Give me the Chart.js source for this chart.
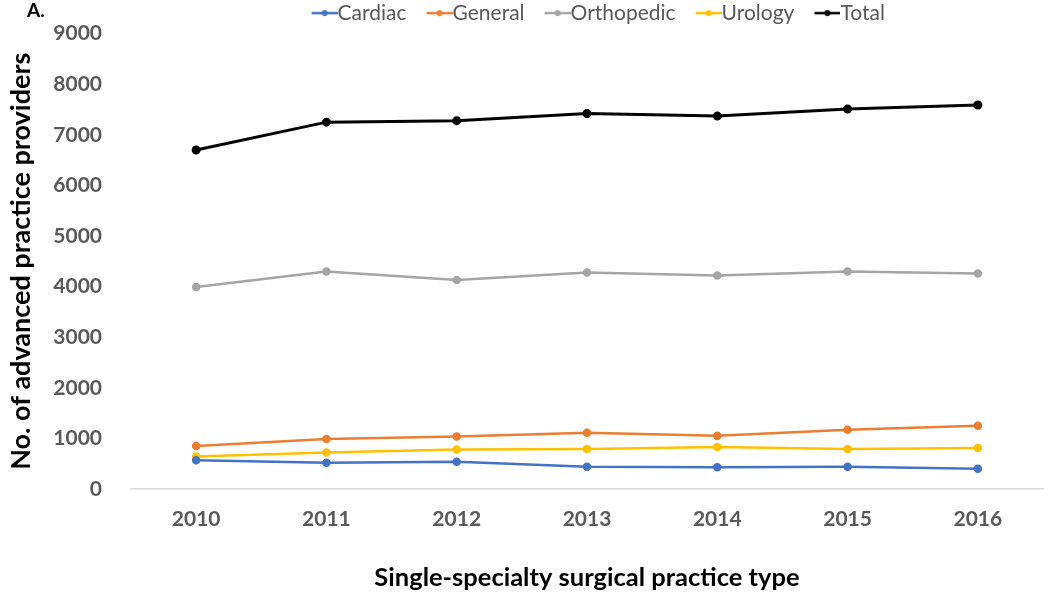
<!DOCTYPE html>
<html>
<head>
<meta charset="utf-8">
<script src="https://cdn.jsdelivr.net/npm/chart.js@4.4.1/dist/chart.umd.min.js"></script>
<style>
  html, body { margin: 0; padding: 0; background: #fff; }
  #wrap { position: relative; width: 1050px; height: 605px; }
  #panel { position: absolute; left: 27px; top: -2px; font: bold 19px Lato, sans-serif; color: #000; }
</style>
</head>
<body>
<div id="wrap">
  <canvas id="chart" width="1050" height="605"></canvas>
  <div id="panel">A.</div>
</div>
<script>
const years = ["2010", "2011", "2012", "2013", "2014", "2015", "2016"];
const cardiac = [570, 520, 540, 440, 430, 440, 400];
const general = [850, 990, 1040, 1110, 1050, 1170, 1250];
const orthopedic = [3990, 4300, 4130, 4280, 4220, 4300, 4260];
const urology = [640, 720, 780, 790, 830, 790, 810];
const total = [6700, 7250, 7280, 7420, 7370, 7510, 7590];

const seriesNames = ["Cardiac", "General", "Orthopedic", "Urology", "Total"];
const seriesValues = [cardiac, general, orthopedic, urology, total];
const seriesColors = ["#4472C4", "#ED7D31", "#A5A5A5", "#FFC000", "#000000"];

// line-with-dot legend marker; left part of the canvas is blank so the
// text sits right against the marker like in Excel
function legendMarker(color) {
    const c = document.createElement("canvas");
    c.width = 46;
    c.height = 10;
    const g = c.getContext("2d");
    g.strokeStyle = color;
    g.lineWidth = 2.5;
    g.beginPath();
    g.moveTo(20, 5);
    g.lineTo(46, 5);
    g.stroke();
    g.fillStyle = color;
    g.beginPath();
    g.arc(33, 5, 3, 0, Math.PI * 2);
    g.fill();
    return c;
}

const datasets = seriesNames.map((name, i) => ({
    label: name,
    data: seriesValues[i],
    borderColor: seriesColors[i],
    backgroundColor: seriesColors[i],
    borderWidth: name === "Total" ? 3 : 2.5,
    pointRadius: 3,
    pointHoverRadius: 4,
    tension: 0,
}));

const tickColor = "#595959";

// legend is centred over the plot area, not the canvas
const shiftLegend = {
    id: "shiftLegend",
    afterLayout(chart) {
        chart.legend.left += 71;
        chart.legend.right += 71;
    },
};

new Chart(document.getElementById("chart").getContext("2d"), {
    type: "line",
    data: { labels: years, datasets: datasets },
    plugins: [shiftLegend],
    options: {
        responsive: false,
        animation: false,
        layout: { padding: { left: 0, right: 5, top: -8, bottom: 8 } },
        plugins: {
            legend: {
                position: "top",
                labels: {
                    usePointStyle: true,
                    pointStyleWidth: 25,
                    color: tickColor,
                    font: { family: "Lato", size: 21 },
                    padding: 10.5,
                    generateLabels: function (chart) {
                        const items = Chart.defaults.plugins.legend.labels.generateLabels(chart);
                        items.forEach((item, i) => {
                            item.pointStyle = legendMarker(seriesColors[i]);
                        });
                        return items;
                    },
                },
            },
            tooltip: { enabled: true },
        },
        scales: {
            x: {
                offset: true,
                grid: { display: false },
                border: { display: true, color: "#d9d9d9", width: 1.5 },
                afterFit: (s) => { s.height = 108; },
                ticks: {
                    color: tickColor,
                    padding: 10,
                    font: { family: "Lato", size: 21, weight: "bold" },
                },
                title: {
                    display: true,
                    text: "Single-specialty surgical practice type",
                    color: "#000",
                    font: { family: "Lato", size: 25.5, weight: "bold" },
                    padding: { top: 30 },
                },
            },
            y: {
                min: 0,
                max: 9000,
                grid: { display: false },
                border: { display: false },
                afterFit: (s) => { s.width = 131; },
                ticks: {
                    stepSize: 1000,
                    color: tickColor,
                    padding: 21,
                    font: { family: "Lato", size: 21, weight: "bold" },
                    callback: (v) => String(v),
                },
                title: {
                    display: true,
                    text: "No. of advanced practice providers",
                    color: "#000",
                    font: { family: "Lato", size: 27, weight: "bold" },
                    padding: { top: 5, bottom: 4 },
                },
            },
        },
    },
});
</script>
</body>
</html>
